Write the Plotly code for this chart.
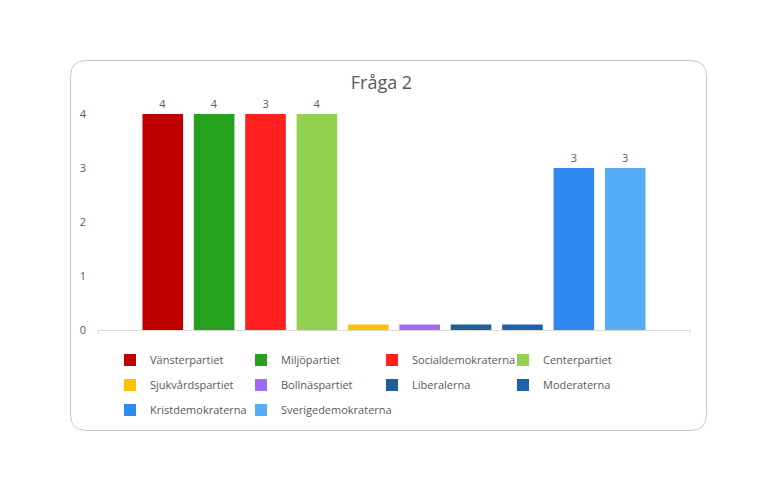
import plotly.graph_objects as go

# ----------------------------------------------------------------------------
#  DATA
# ----------------------------------------------------------------------------
parties = ["Vänsterpartiet", "Miljöpartiet", "Socialdemokraterna", "Centerpartiet",
           "Sjukvårdspartiet", "Bollnäspartiet", "Liberalerna", "Moderaterna",
           "Kristdemokraterna", "Sverigedemokraterna"]
values = [4, 4, 4, 4, 0.1, 0.1, 0.1, 0.1, 3, 3]
value_labels = ["4", "4", "3", "4", "", "", "", "", "3", "3"]
colors = ["#c00000", "#25a11e", "#ff1f1f", "#92d050", "#ffc000",
          "#a06cf7", "#1f5c99", "#1e62ad", "#2e89f0", "#56acf5"]
# legend row / column slot of every party
legend_rows = ["legend", "legend", "legend", "legend",
               "legend2", "legend2", "legend2", "legend2",
               "legend3", "legend4"]

title = "Fråga 2"
y_ticks = [0, 1, 2, 3, 4]

# ----------------------------------------------------------------------------
#  LAYOUT IN PIXELS
# ----------------------------------------------------------------------------
W, H = 776, 496
L, R, T, B = 98, 690, 87, 330          # plot area edges
Y_MAX = 4.5
TXT = "#595959"
FONT = "Open Sans"
COL_W = 131


def px(x):
    return (x - L) / (R - L)


def py(y):
    return (B - y) / (B - T)


def rounded_rect(x0, y0, x1, y1, r):
    return (f"M {px(x0 + r)} {py(y0)} L {px(x1 - r)} {py(y0)} "
            f"Q {px(x1)} {py(y0)} {px(x1)} {py(y0 + r)} "
            f"L {px(x1)} {py(y1 - r)} "
            f"Q {px(x1)} {py(y1)} {px(x1 - r)} {py(y1)} "
            f"L {px(x0 + r)} {py(y1)} "
            f"Q {px(x0)} {py(y1)} {px(x0)} {py(y1 - r)} "
            f"L {px(x0)} {py(y0 + r)} "
            f"Q {px(x0)} {py(y0)} {px(x0 + r)} {py(y0)} Z")


fig = go.Figure()
for name, val, lab, col, leg in zip(parties, values, value_labels, colors, legend_rows):
    marker = dict(color=col, line=dict(width=0))
    if name == "Liberalerna":
        marker["pattern"] = dict(shape=".", size=3, solidity=0.1,
                                 fgcolor="#5a7598", bgcolor=col)
    fig.add_trace(go.Bar(
        x=[name], y=[val], name=name, marker=marker, width=0.79,
        text=[lab], textposition="outside", cliponaxis=False,
        textfont=dict(size=11, color=TXT, family=FONT),
        legend=leg, hoverinfo="x+y"))

legend_style = dict(orientation="h", xanchor="left", yanchor="middle",
                    font=dict(size=11, color=TXT, family=FONT),
                    bgcolor="rgba(0,0,0,0)", itemclick=False)
row_style = dict(legend_style, entrywidth=COL_W - 45, entrywidthmode="pixels")
x0_leg = 110

fig.update_layout(
    width=W, height=H,
    margin=dict(l=L, r=W - R, t=T, b=H - B, autoexpand=False),
    paper_bgcolor="white", plot_bgcolor="white",
    barmode="overlay",
    title=dict(text=title, x=px(389), xanchor="center", y=1 - 83 / H, yanchor="middle",
               font=dict(size=18, color=TXT, family=FONT)),
    xaxis=dict(type="category", range=[-1.26, 10.26], showticklabels=False,
               showgrid=False, zeroline=False, showline=True, linecolor="#d9d9d9",
               linewidth=1, ticks="", fixedrange=True),
    yaxis=dict(range=[0, Y_MAX], tickvals=y_ticks, showgrid=False, zeroline=False,
               showline=False, ticks="", ticklabelstandoff=11,
               tickfont=dict(size=11, color=TXT, family=FONT), fixedrange=True),
    legend=dict(row_style, x=px(x0_leg), y=py(360)),
    legend2=dict(row_style, x=px(x0_leg), y=py(385)),
    legend3=dict(legend_style, x=px(x0_leg), y=py(410)),
    legend4=dict(legend_style, x=px(x0_leg + COL_W), y=py(410)),
    shapes=[
        dict(type="path", xref="paper", yref="paper",
             path=rounded_rect(70.5, 60.5, 706.5, 430.5, 16),
             line=dict(color="#c8c8c8", width=1), fillcolor="rgba(0,0,0,0)", layer="below"),
        dict(type="line", xref="paper", yref="paper", x0=0, x1=0, y0=0, y1=py(334),
             line=dict(color="#d9d9d9", width=1)),
        dict(type="line", xref="paper", yref="paper", x0=1, x1=1, y0=0, y1=py(334),
             line=dict(color="#d9d9d9", width=1)),
    ],
    showlegend=True,
)

fig.write_html("out.html", config={"displayModeBar": False},
               post_script="document.body.style.margin='0px';")
